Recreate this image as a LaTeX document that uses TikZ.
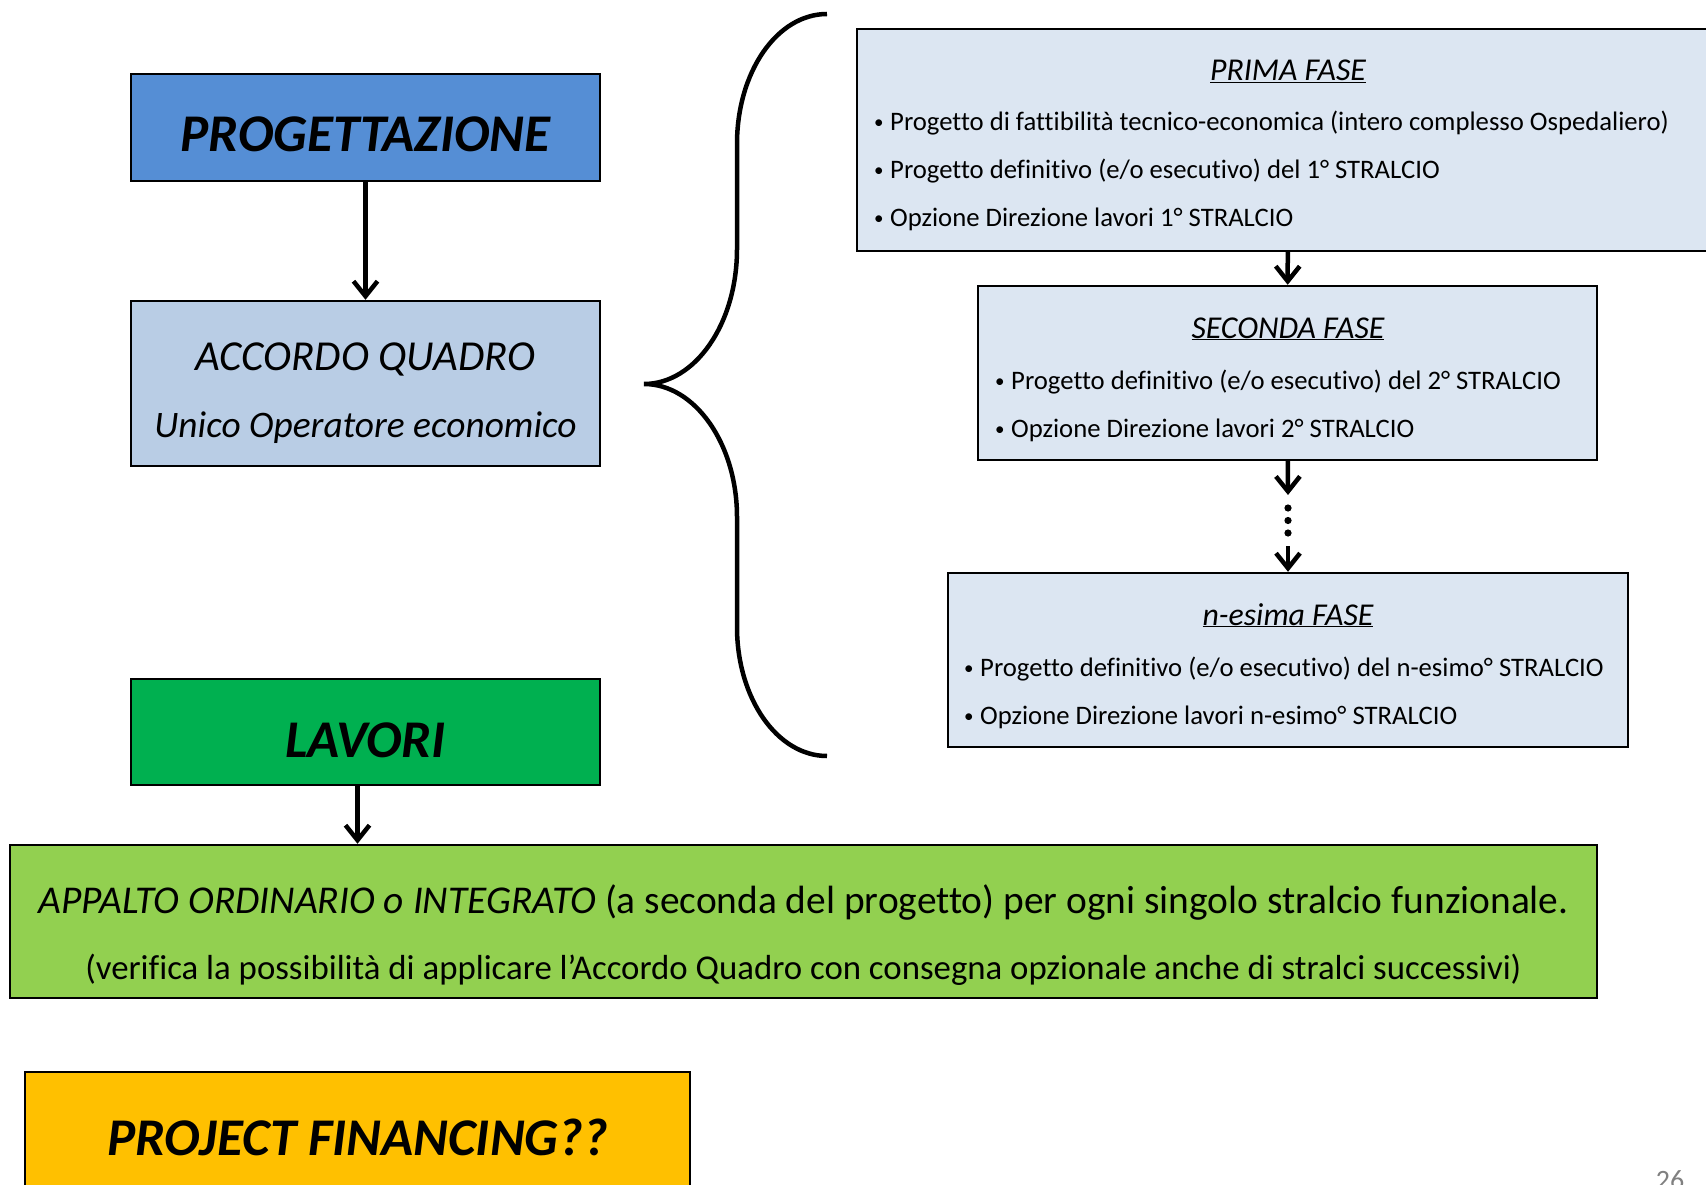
\documentclass[tikz,border=0pt]{standalone}
\usepackage{fontspec}
\setmainfont[Ligatures=NoCommon]{Carlito}
\usetikzlibrary{arrows.meta}
\definecolor{progblue}{HTML}{558ED5}
\definecolor{aqblue}{HTML}{B9CDE5}
\definecolor{fasefill}{HTML}{DCE6F2}
\definecolor{lavgreen}{HTML}{00B050}
\definecolor{appgreen}{HTML}{92D050}
\definecolor{pforange}{HTML}{FFC000}
\newcommand{\bul}{\makebox[16pt][l]{\fontsize{19}{19}\selectfont\raisebox{2pt}{•}}}

\begin{document}
\begin{tikzpicture}[x=1pt, y=-1pt,
  box/.style={draw, line width=2.4pt, inner sep=0pt},
  big/.style={font=\fontsize{53}{60}\selectfont\bfseries\itshape, inner sep=0pt, anchor=base},
  item/.style={font=\fontsize{26.7}{30}\selectfont, inner sep=0pt, anchor=base west},
  title/.style={font=\fontsize{31.8}{36}\selectfont\itshape, inner sep=0pt, anchor=base},
  arr/.style={line width=4.5pt, -{Straight Barb[length=15pt,width=24pt]}}]
  \clip (0,0) rectangle (1706,1185);

  \node[box, fill=progblue, minimum width=469, minimum height=107] (prog) at (365.5,127.5) {};
  \node[box, fill=aqblue, minimum width=469, minimum height=165] (accordo) at (365.5,383.5) {};
  \node[box, fill=lavgreen, minimum width=469, minimum height=106] (lavori) at (365.5,732) {};
  \node[box, fill=appgreen, minimum width=1587, minimum height=153] (appalto) at (803.5,921.5) {};
  \node[box, fill=pforange, minimum width=665, minimum height=132] (pf) at (357.5,1138) {};

  \node[big] (progtxt) at (365.5,152) {PROGETTAZIONE};
  \node[big] (lavtxt) at (365.5,757) {LAVORI};
  \node[big] (pftxt) at (357.5,1155) {PROJECT FINANCING??};
  \node[inner sep=0pt, anchor=base, font=\fontsize{42.7}{46}\selectfont\itshape] (aq1) at (365.5,370) {ACCORDO QUADRO};
  \node[inner sep=0pt, anchor=base, font=\fontsize{37.4}{46}\selectfont\itshape] (aq2) at (365.5,437) {Unico Operatore economico};
  \node[inner sep=0pt, anchor=base, font=\fontsize{39.4}{46}\selectfont] (app1) at (803.5,913)
    {\textit{APPALTO ORDINARIO o INTEGRATO} (a seconda del progetto) per ogni singolo stralcio funzionale.};
  \node[inner sep=0pt, anchor=base, font=\fontsize{34.8}{40}\selectfont] (app2) at (803.5,979)
    {(verifica la possibilità di applicare l’Accordo Quadro con consegna opzionale anche di stralci successivi)};

  \node[box, fill=fasefill, minimum width=862, minimum height=222] (prima) at (1288,140) {};
  \node[box, fill=fasefill, minimum width=619, minimum height=174] (seconda) at (1287.5,373) {};
  \node[box, fill=fasefill, minimum width=680, minimum height=174] (nesima) at (1288,660) {};

  \node[title] (t1) at (1288,81) {\underline{PRIMA FASE}};
  \node[item] (p1) at (874,131) {\bul Progetto di fattibilità tecnico-economica (intero complesso Ospedaliero)};
  \node[item] (p2) at (874,179) {\bul Progetto definitivo (e/o esecutivo) del 1° STRALCIO};
  \node[item] (p3) at (874,227) {\bul Opzione Direzione lavori 1° STRALCIO};
  \node[title] (t2) at (1288,338) {\underline{SECONDA FASE}};
  \node[item] (s1) at (995,389) {\bul Progetto definitivo (e/o esecutivo) del 2° STRALCIO};
  \node[item] (s2) at (995,437) {\bul Opzione Direzione lavori 2° STRALCIO};
  \node[title] (t3) at (1288,625) {\underline{n-esima FASE}};
  \node[item] (n1) at (964,676) {\bul Progetto definitivo (e/o esecutivo) del n-esimo° STRALCIO};
  \node[item] (n2) at (964,724) {\bul Opzione Direzione lavori n-esimo° STRALCIO};

  \node[inner sep=0pt, anchor=north, text=gray, font=\fontsize{28}{30}\selectfont] (pag) at (1670,1170) {26};

  \draw[arr] (prog) -- (accordo);
  \draw[arr] ([xshift=-8]lavori.south) -- ([xshift=-8]lavori.south |- appalto.north);
  \draw[arr] (prima) -- (seconda);
  \coordinate (d1) at (1288,495);
  \coordinate (d2) at (1288,546);
  \draw[arr] (seconda) -- (d1);
  \draw[arr] (d2) -- (nesima);
  \foreach \y in {508,520.5,533}
    \fill (1288,\y) circle (3.6);

  \draw[line width=4.5pt] (827,14) .. controls (777,14) and (737,72) .. (737,144)
    -- (737,249) .. controls (737,324) and (695,384) .. (644,384)
    .. controls (695,384) and (737,444) .. (737,517)
    -- (737,627) .. controls (737,698) and (777,756) .. (827,756);
\end{tikzpicture}
\end{document}
